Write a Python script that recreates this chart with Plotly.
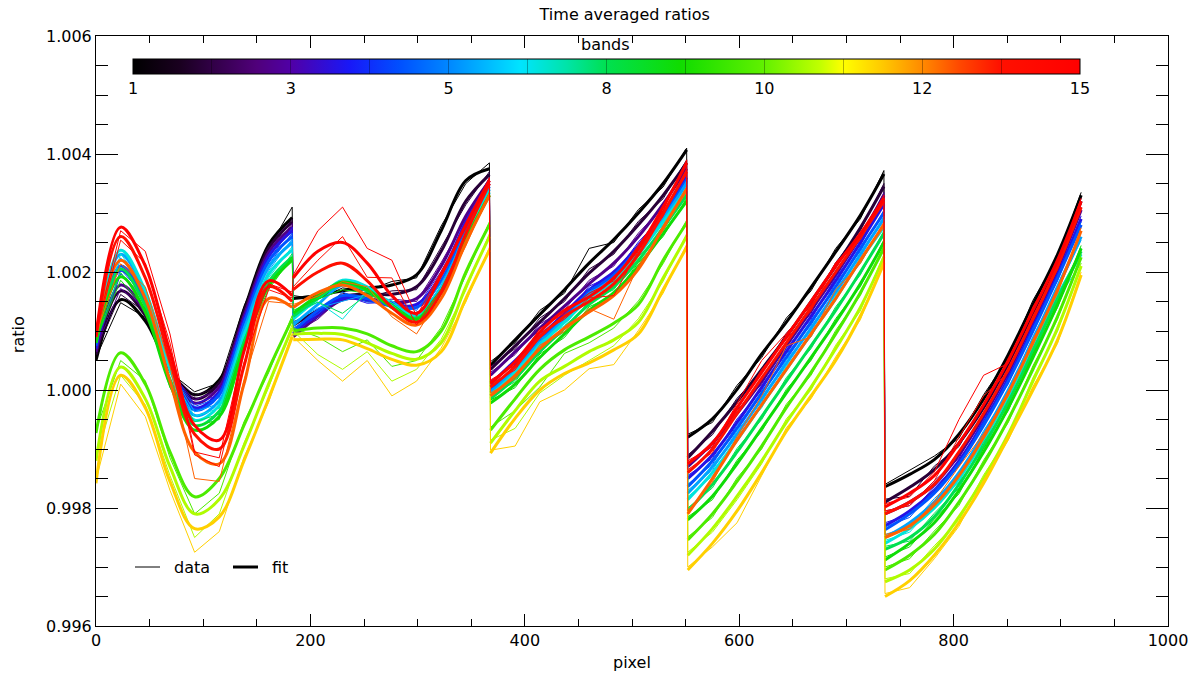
import plotly.graph_objects as go
from plotly.colors import sample_colorscale

# ---------------- data ----------------
SEGMENT_STARTS = [0, 184, 368, 552, 736]          # first pixel of each detector segment
SAMPLE_OFFSETS = [0, 23, 46, 69, 92, 115, 138, 161, 183]  # sampled pixels inside a segment
BANDS = list(range(1, 16))
RATIO_UNIT = 1e-4   # every value below is (ratio - 1) expressed in units of 1e-4

# thick fitted curves, 5 segments x 9 samples per band
FIT_01 = [5.0, 15.3, 11.7, 3.5, -0.8, 1.7, 13.5, 24.6, 29.2,
          15.5, 16.0, 16.8, 17.3, 17.8, 19.5, 27.0, 35.5, 37.5,
          4.2, 8.5, 12.8, 17.0, 21.5, 25.5, 30.0, 35.0, 40.7,
          -8.0, -4.9, 0.1, 6.1, 11.5, 17.4, 23.4, 29.6, 36.6,
          -16.4, -14.3, -11.8, -7.5, -1.5, 6.0, 14.5, 23.0, 33.0]
FIT_02 = [6.0, 16.8, 12.6, 3.6, -1.5, 1.2, 13.0, 24.0, 28.5,
          11.0, 13.5, 15.8, 16.3, 16.2, 17.5, 23.5, 32.0, 36.5,
          3.5, 7.5, 11.5, 15.5, 19.8, 23.5, 28.0, 33.0, 38.5,
          -11.5, -7.0, -2.0, 3.5, 9.0, 15.0, 21.0, 27.5, 34.5,
          -19.0, -16.5, -13.5, -9.0, -3.0, 4.5, 13.0, 22.0, 32.0]
FIT_03 = [6.5, 17.8, 13.2, 3.5, -2.2, 0.5, 12.4, 23.3, 27.6,
          9.0, 12.5, 15.3, 15.5, 14.8, 15.5, 21.0, 29.5, 35.5,
          2.5, 6.5, 10.5, 14.2, 18.0, 21.5, 26.0, 31.5, 37.5,
          -13.0, -9.0, -4.0, 1.5, 7.5, 13.5, 19.5, 26.0, 33.0,
          -21.0, -19.0, -16.0, -11.0, -4.5, 3.0, 11.5, 20.5, 30.5]
FIT_04 = [7.0, 20.3, 14.8, 4.0, -3.0, -0.3, 11.8, 22.6, 27.0,
          9.5, 13.0, 15.5, 15.3, 14.3, 14.5, 19.5, 28.5, 35.0,
          1.0, 5.0, 9.0, 13.0, 17.0, 20.0, 24.5, 30.0, 36.0,
          -15.0, -11.0, -5.5, 0.5, 6.5, 12.5, 18.5, 25.0, 31.5,
          -23.0, -20.5, -17.0, -12.0, -5.5, 2.0, 10.5, 19.5, 29.0]
FIT_05 = [7.5, 21.0, 15.2, 3.8, -3.4, -0.8, 11.2, 21.8, 26.0,
          10.0, 13.5, 16.0, 15.5, 14.2, 14.0, 18.5, 27.5, 34.5,
          0.0, 4.0, 8.5, 12.5, 16.5, 19.5, 24.0, 29.5, 35.5,
          -16.4, -12.0, -6.5, -0.5, 5.5, 11.5, 17.5, 24.0, 30.0,
          -23.7, -21.0, -17.5, -12.5, -6.0, 1.5, 10.0, 19.0, 28.0]
FIT_06 = [8.0, 23.0, 16.5, 4.0, -4.3, -1.8, 10.2, 20.8, 25.0,
          11.0, 14.5, 17.8, 16.8, 14.5, 13.0, 17.5, 26.5, 34.0,
          -0.5, 3.5, 8.0, 12.0, 16.0, 19.0, 23.5, 29.0, 35.0,
          -17.5, -13.0, -7.5, -1.5, 4.5, 10.5, 16.5, 23.0, 29.0,
          -25.0, -22.5, -19.0, -14.0, -7.5, 0.0, 8.5, 17.5, 26.0]
FIT_07 = [8.5, 23.7, 16.8, 3.5, -5.1, -2.6, 9.2, 19.6, 23.7,
          12.0, 15.5, 18.6, 17.5, 14.5, 12.5, 17.0, 26.0, 33.5,
          -1.0, 3.0, 7.5, 11.5, 15.5, 18.5, 23.0, 28.5, 34.0,
          -18.6, -14.0, -8.5, -2.5, 3.5, 9.5, 15.5, 22.0, 27.6,
          -26.0, -23.5, -20.0, -15.0, -8.5, -1.0, 7.5, 16.0, 23.0]
FIT_08 = [8.0, 20.5, 14.2, 1.8, -6.0, -3.6, 8.0, 18.3, 22.5,
          12.5, 15.5, 18.0, 16.8, 14.0, 12.2, 16.5, 25.5, 33.0,
          -1.5, 2.0, 6.5, 10.5, 14.5, 17.5, 22.0, 27.5, 33.0,
          -20.5, -16.0, -10.5, -4.5, 1.5, 7.5, 13.5, 20.0, 26.5,
          -27.0, -25.0, -21.5, -16.0, -9.5, -2.0, 6.5, 15.5, 23.5]
FIT_09 = [8.0, 19.2, 13.2, 1.0, -6.8, -4.5, 7.2, 17.6, 22.0,
          13.0, 16.0, 18.3, 17.0, 14.0, 12.0, 16.5, 25.5, 33.0,
          -2.2, 1.0, 5.5, 9.5, 13.5, 16.5, 21.0, 26.5, 32.0,
          -22.0, -18.0, -12.5, -6.5, -0.5, 5.5, 11.5, 18.0, 25.0,
          -28.8, -26.0, -22.5, -17.0, -10.5, -3.0, 5.5, 14.5, 24.0]
FIT_10 = [-7.3, 6.3, 1.0, -10.5, -18.1, -15.0, -6.0, 3.5, 12.0,
          10.0, 10.5, 10.5, 9.5, 7.5, 6.5, 10.0, 20.0, 28.0,
          -6.8, -1.5, 3.5, 6.8, 9.0, 11.3, 14.5, 22.0, 28.3,
          -25.4, -21.0, -15.5, -9.5, -3.0, 3.0, 9.5, 16.5, 24.0,
          -30.5, -28.0, -24.5, -19.0, -12.5, -5.0, 3.5, 12.5, 22.5]
FIT_11 = [-12.0, 3.9, -1.5, -13.0, -21.0, -18.5, -9.5, 1.0, 10.5,
          9.5, 9.6, 9.4, 8.0, 6.2, 5.2, 8.0, 17.5, 26.0,
          -9.0, -3.5, 1.5, 4.0, 6.5, 8.5, 11.5, 19.0, 26.0,
          -28.0, -23.5, -18.0, -12.0, -5.5, 0.5, 7.0, 14.0, 22.5,
          -32.5, -30.5, -27.0, -21.5, -15.0, -7.5, 1.5, 10.5, 21.0]
FIT_12 = [-15.8, 2.5, -3.0, -15.5, -23.5, -21.5, -12.0, -1.5, 9.0,
          8.5, 8.6, 8.5, 7.0, 5.2, 4.2, 6.5, 15.5, 23.7,
          -10.7, -4.8, 0.0, 2.8, 4.6, 6.8, 9.5, 17.0, 24.2,
          -30.5, -26.0, -20.5, -14.0, -7.0, -1.0, 5.0, 12.5, 21.5,
          -35.0, -32.3, -28.0, -22.5, -15.8, -8.0, 0.0, 8.5, 19.5]
FIT_13 = [9.0, 22.0, 15.5, 1.5, -10.5, -12.5, 1.0, 15.5, 14.0,
          14.0, 16.5, 17.8, 16.0, 13.0, 11.0, 15.5, 25.0, 33.0,
          -1.0, 2.5, 7.0, 10.5, 13.2, 16.0, 20.5, 27.5, 34.0,
          -21.0, -15.0, -8.5, -2.5, 3.5, 9.5, 15.5, 22.0, 28.0,
          -25.0, -23.0, -19.5, -14.5, -8.0, -0.5, 8.0, 17.0, 27.0]
FIT_14 = [9.0, 26.0, 19.0, 5.0, -7.5, -10.0, 4.0, 17.5, 15.0,
          17.0, 20.0, 21.5, 18.5, 14.0, 11.5, 16.5, 26.5, 35.0,
          0.5, 4.0, 9.0, 12.5, 15.0, 18.0, 23.0, 30.0, 37.0,
          -14.0, -10.0, -4.0, 2.0, 8.0, 14.0, 20.0, 26.0, 32.0,
          -21.0, -19.0, -16.0, -10.5, -4.0, 3.5, 12.0, 21.0, 31.0]
FIT_15 = [9.3, 27.6, 21.0, 6.5, -6.0, -8.5, 6.5, 18.5, 16.0,
          19.0, 23.5, 25.0, 21.5, 16.0, 13.0, 19.5, 28.0, 35.5,
          1.2, 4.8, 9.8, 13.5, 15.8, 19.0, 24.0, 31.0, 38.5,
          -12.5, -9.0, -3.0, 3.0, 9.0, 15.0, 21.0, 26.5, 32.5,
          -19.8, -17.5, -14.5, -9.0, -2.5, 5.0, 13.5, 22.0, 32.0]

# thin measured curves, same samples
DATA_01 = [5.5, 14.8, 12.3, 3.0, -0.3, 1.2, 14.2, 24.0, 31.0,
           16.0, 15.4, 17.3, 16.8, 18.4, 19.0, 27.8, 35.0, 38.5,
           4.8, 8.0, 13.5, 16.4, 24.0, 25.0, 30.6, 34.4, 41.0,
           -7.5, -5.5, 0.8, 5.5, 12.2, 16.8, 24.0, 29.0, 37.2,
           -16.0, -13.6, -11.2, -8.2, -0.8, 5.4, 15.2, 22.4, 33.5]
DATA_02 = [6.5, 16.2, 13.2, 3.0, -1.0, 0.6, 13.7, 23.4, 29.0,
           11.6, 13.0, 16.4, 15.7, 16.8, 17.0, 24.2, 31.4, 37.0,
           4.0, 7.0, 12.2, 15.0, 20.5, 23.0, 28.6, 32.4, 39.0,
           -11.0, -7.6, -1.4, 3.0, 9.6, 14.4, 21.6, 27.0, 35.0,
           -18.5, -18.0, -12.9, -9.6, -2.4, 4.0, 13.6, 21.4, 32.5]
DATA_03 = [7.0, 17.2, 13.8, 3.0, -1.7, 0.0, 13.0, 22.8, 28.2,
           9.6, 12.0, 15.9, 15.0, 15.4, 15.0, 21.6, 29.0, 36.0,
           3.0, 6.0, 11.2, 13.6, 18.6, 21.0, 26.6, 31.0, 38.0,
           -12.5, -9.6, -3.4, 1.0, 8.1, 13.0, 20.1, 25.5, 33.5,
           -20.5, -19.6, -15.4, -11.6, -3.9, 2.5, 12.1, 20.0, 31.0]
DATA_04 = [7.5, 19.7, 15.4, 3.4, -2.4, -0.8, 12.4, 22.0, 27.6,
           10.0, 12.4, 16.1, 14.7, 14.9, 14.0, 20.1, 28.0, 35.5,
           1.5, 4.4, 9.6, 12.4, 17.6, 19.5, 25.1, 29.5, 36.5,
           -14.5, -11.6, -4.9, 0.0, 7.1, 12.0, 19.1, 24.5, 32.0,
           -22.5, -21.1, -16.4, -12.6, -4.9, 1.5, 11.1, 19.0, 29.5]
DATA_05 = [8.0, 20.4, 15.8, 3.2, -2.8, -1.3, 11.8, 21.2, 26.6,
           10.5, 12.9, 16.6, 14.9, 14.8, 13.5, 19.1, 27.0, 35.0,
           0.5, 3.4, 9.1, 11.9, 17.1, 19.0, 24.6, 29.0, 36.0,
           -16.0, -12.6, -5.9, -1.0, 6.1, 11.0, 18.1, 23.5, 30.5,
           -23.2, -21.6, -16.9, -13.0, -5.4, 1.0, 10.6, 18.5, 28.5]
DATA_06 = [8.5, 22.4, 17.1, 3.4, -3.7, -2.3, 10.8, 20.2, 25.6,
           11.5, 13.9, 15.0, 16.2, 15.1, 12.5, 18.1, 26.0, 34.5,
           0.0, 2.9, 8.6, 11.4, 16.6, 18.5, 24.1, 28.5, 35.5,
           -17.0, -13.6, -6.9, -2.0, 5.1, 10.0, 17.1, 22.5, 29.5,
           -24.5, -23.1, -18.4, -14.6, -6.9, -0.5, 9.1, 17.0, 25.4]
DATA_07 = [9.0, 23.1, 17.4, 2.9, -4.5, -3.1, 9.8, 19.0, 24.3,
           12.5, 14.9, 12.0, 16.9, 15.1, 12.0, 17.6, 25.4, 34.0,
           -0.5, 2.4, 8.1, 10.9, 16.1, 18.0, 23.6, 28.0, 34.5,
           -18.1, -14.6, -7.9, -3.0, 4.1, 9.0, 16.1, 21.5, 28.2,
           -25.5, -24.1, -19.4, -15.6, -7.9, -1.5, 8.1, 15.4, 21.5]
DATA_08 = [8.5, 19.9, 14.8, 1.2, -5.4, -4.1, 8.6, 17.7, 23.1,
           13.0, 14.9, 13.0, 16.2, 14.6, 11.7, 17.1, 24.9, 33.5,
           -1.0, 1.4, 7.1, 9.9, 15.1, 17.0, 22.6, 27.0, 33.5,
           -20.0, -16.6, -9.9, -5.0, 2.1, 7.0, 14.1, 19.5, 27.0,
           -26.5, -25.6, -20.9, -16.6, -8.9, -2.5, 7.1, 15.0, 24.0]
DATA_09 = [8.5, 18.6, 13.8, 0.4, -6.2, -5.0, 7.8, 17.0, 22.6,
           13.5, 15.4, 17.0, 16.4, 14.6, 11.5, 17.1, 24.9, 33.5,
           -1.7, 0.4, 6.1, 8.9, 14.1, 16.0, 21.6, 26.0, 32.5,
           -21.5, -18.6, -11.9, -7.0, 0.1, 5.0, 12.1, 17.5, 25.5,
           -28.3, -26.6, -21.9, -17.6, -9.9, -3.5, 6.1, 14.0, 24.5]
DATA_10 = [-6.8, 5.0, 1.6, -11.5, -21.0, -17.5, -5.4, 2.9, 12.6,
           10.5, 9.0, 6.5, 8.5, 4.0, 5.0, 10.6, 19.4, 28.5,
           -6.3, -3.5, 0.5, 6.2, 8.0, 10.5, 15.1, 21.4, 28.8,
           -24.9, -21.6, -14.9, -10.0, -2.4, 2.5, 10.1, 16.0, 24.5,
           -30.0, -28.6, -23.9, -19.6, -11.9, -5.5, 4.1, 12.0, 23.0]
DATA_11 = [-11.5, 2.5, -2.5, -14.5, -25.0, -21.0, -9.0, 0.4, 11.1,
           10.0, 6.0, 3.5, 6.5, 1.5, 3.5, 8.6, 16.9, 26.5,
           -8.5, -6.5, -0.5, 2.5, 5.0, 7.5, 12.1, 18.4, 26.5,
           -27.5, -24.1, -18.6, -12.5, -4.9, 0.0, 7.6, 13.4, 23.0,
           -32.0, -31.1, -26.4, -22.1, -14.4, -8.0, 2.1, 10.0, 21.5]
DATA_12 = [-15.3, 1.0, -4.5, -17.0, -27.5, -24.0, -11.4, -2.1, 9.6,
           9.0, 5.0, 1.5, 5.0, -1.0, 1.5, 7.1, 14.9, 24.2,
           -10.2, -9.5, -2.0, 0.0, 3.6, 4.3, 10.1, 16.4, 24.7,
           -30.0, -26.6, -22.5, -14.5, -6.4, -1.5, 5.6, 11.9, 22.0,
           -34.5, -33.5, -28.6, -23.1, -15.2, -8.5, 0.6, 7.9, 20.0]
DATA_13 = [9.5, 21.4, 17.5, 4.0, -15.0, -15.5, 1.6, 15.0, 14.6,
           14.5, 15.9, 18.4, 17.5, 12.4, 9.5, 16.1, 24.4, 33.5,
           -0.5, 1.9, 7.6, 9.9, 13.8, 12.0, 21.1, 27.0, 34.5,
           -20.5, -15.6, -7.9, -1.0, 7.5, 9.0, 17.0, 21.4, 28.5,
           -24.5, -23.6, -18.9, -13.0, -7.4, -1.0, 8.6, 16.4, 27.5]
DATA_14 = [9.5, 25.4, 21.5, 8.0, -11.0, -13.0, 4.6, 17.0, 15.6,
           17.5, 22.0, 26.0, 19.1, 19.0, 11.0, 17.1, 26.0, 35.5,
           1.0, 3.4, 9.6, 12.0, 15.6, 16.0, 23.6, 29.4, 37.5,
           -13.5, -10.6, -3.4, 3.5, 8.6, 13.4, 21.5, 25.4, 32.5,
           -20.5, -19.6, -15.4, -8.0, -1.0, 3.0, 12.6, 20.4, 31.5]
DATA_15 = [9.8, 27.0, 23.5, 9.5, -10.5, -11.5, 7.1, 18.0, 16.6,
           19.5, 27.0, 31.0, 24.0, 22.0, 12.5, 20.1, 27.4, 36.0,
           1.7, 4.2, 10.4, 13.0, 16.4, 18.5, 24.6, 30.4, 39.0,
           -12.0, -9.6, -2.4, 5.0, 9.6, 14.4, 21.6, 26.0, 33.0,
           -19.3, -18.1, -13.9, -5.0, 2.5, 4.5, 14.1, 21.4, 32.5]

FITS = [FIT_01, FIT_02, FIT_03, FIT_04, FIT_05, FIT_06, FIT_07, FIT_08,
        FIT_09, FIT_10, FIT_11, FIT_12, FIT_13, FIT_14, FIT_15]
DATAS = [DATA_01, DATA_02, DATA_03, DATA_04, DATA_05, DATA_06, DATA_07, DATA_08,
         DATA_09, DATA_10, DATA_11, DATA_12, DATA_13, DATA_14, DATA_15]

COLORBAR_TICKS = [1, 3, 5, 8, 10, 12, 15]

# ---------------- style ----------------
RAINBOW = [
    [0.000, "#000000"], [0.050, "#1a0020"], [0.130, "#50007a"], [0.168, "#5000a8"],
    [0.229, "#1818f8"], [0.282, "#0050ff"], [0.334, "#0088ff"], [0.409, "#00e4ff"],
    [0.458, "#00e4a8"], [0.500, "#00e050"], [0.578, "#10dc00"], [0.665, "#60f000"],
    [0.725, "#c0ff00"], [0.750, "#ffff00"], [0.792, "#ffc800"], [0.832, "#ff8c00"],
    [0.873, "#ff4800"], [0.916, "#ff1000"], [1.000, "#ff0000"],
]
FONT = "DejaVu Sans"
BMIN, BMAX = BANDS[0], BANDS[-1]
band_colors = sample_colorscale(RAINBOW, [(b - BMIN) / (BMAX - BMIN) for b in BANDS])

fig = go.Figure()

for i, b in enumerate(BANDS):
    xs_data, ys_data, xs_fit, ys_fit = [], [], [], []
    for s, start in enumerate(SEGMENT_STARTS):
        for k, off in enumerate(SAMPLE_OFFSETS):
            idx = s * len(SAMPLE_OFFSETS) + k
            xs_data.append(start + off)
            ys_data.append(1 + DATAS[i][idx] * RATIO_UNIT)
            xs_fit.append(start + off)
            ys_fit.append(1 + FITS[i][idx] * RATIO_UNIT)
        xs_fit.append(None)
        ys_fit.append(None)
    fig.add_trace(go.Scatter(x=xs_data, y=ys_data, mode="lines",
                             line=dict(color=band_colors[i], width=1),
                             showlegend=False, hoverinfo="skip"))
    fig.add_trace(go.Scatter(x=xs_fit, y=ys_fit, mode="lines",
                             line=dict(color=band_colors[i], width=3, shape="spline"),
                             connectgaps=False, showlegend=False, hoverinfo="skip"))

# colour bar for the bands
n_div = 12
cb_vals = [BMIN + (BMAX - BMIN) * j / n_div for j in range(n_div + 1)]
cb_text = []
lab_iter = iter(COLORBAR_TICKS)
for j in range(n_div + 1):
    cb_text.append(str(next(lab_iter)) if j % 2 == 0 else "")
fig.add_trace(go.Scatter(
    x=[None], y=[None], mode="markers", showlegend=False, hoverinfo="skip",
    marker=dict(color=[BMIN], cmin=BMIN, cmax=BMAX, colorscale=RAINBOW, showscale=True,
                colorbar=dict(orientation="h", thickness=15, thicknessmode="pixels",
                              len=947, lenmode="pixels", x=0.4762, xanchor="center",
                              y=0.961, yanchor="top", xpad=0, ypad=0,
                              outlinewidth=1, outlinecolor="black",
                              tickmode="array", tickvals=cb_vals, ticktext=cb_text,
                              ticks="inside", ticklen=15, tickwidth=1,
                              tickcolor="rgba(0,0,0,0.3)",
                              tickfont=dict(family=FONT, size=16, color="black"))),
))

axis_font = dict(family=FONT, size=16, color="black")
fig.update_layout(
    width=1199, height=680,
    margin=dict(l=96, r=31, t=36, b=54),
    paper_bgcolor="white", plot_bgcolor="white",
    showlegend=False,
    title=dict(text="Time averaged ratios", x=0.521, xref="container", xanchor="center",
               y=1 - 14 / 680, yref="container", yanchor="middle",
               font=dict(family=FONT, size=16, color="black")),
    xaxis=dict(range=[0, 1000], tickmode="linear", tick0=0, dtick=200,
               ticks="inside", ticklen=12, tickwidth=1, tickcolor="black",
               showline=True, linecolor="black", linewidth=1, mirror="ticks",
               showgrid=False, zeroline=False, tickfont=axis_font,
               minor=dict(dtick=50, ticks="inside", ticklen=7, tickcolor="black", showgrid=False)),
    yaxis=dict(range=[0.996, 1.006], tickmode="linear", tick0=0.996, dtick=0.002,
               tickformat=".3f",
               ticks="inside", ticklen=22, tickwidth=1, tickcolor="black",
               showline=True, linecolor="black", linewidth=1, mirror="ticks",
               showgrid=False, zeroline=False, tickfont=axis_font,
               minor=dict(dtick=0.0005, ticks="inside", ticklen=12, tickcolor="black", showgrid=False)),
)

annots = [
    dict(text="bands", x=0.475, y=0.986, xref="paper", yref="paper",
         showarrow=False, font=axis_font, xanchor="center", yanchor="middle"),
    dict(text="pixel", x=0.5, y=-(662 - 626) / 590, xref="paper", yref="paper",
         showarrow=False, font=axis_font, xanchor="center", yanchor="middle"),
    dict(text="ratio", x=-(96 - 18) / 1072, y=0.493, xref="paper", yref="paper",
         showarrow=False, font=axis_font, xanchor="center", yanchor="middle", textangle=-90),
    dict(text="data", x=(172 - 96) / 1072, y=(626 - 567) / 590, xref="paper", yref="paper",
         showarrow=False, font=axis_font, xanchor="left", yanchor="middle"),
    dict(text="fit", x=(270 - 96) / 1072, y=(626 - 567) / 590, xref="paper", yref="paper",
         showarrow=False, font=axis_font, xanchor="left", yanchor="middle"),
]
fig.update_layout(annotations=annots)
ly = (626 - 567) / 590
fig.add_shape(type="line", xref="paper", yref="paper", x0=(135 - 96) / 1072, x1=(160 - 96) / 1072,
              y0=ly, y1=ly, line=dict(color="black", width=1))
fig.add_shape(type="line", xref="paper", yref="paper", x0=(233 - 96) / 1072, x1=(258 - 96) / 1072,
              y0=ly, y1=ly, line=dict(color="black", width=3))

fig.write_html("out.html")
